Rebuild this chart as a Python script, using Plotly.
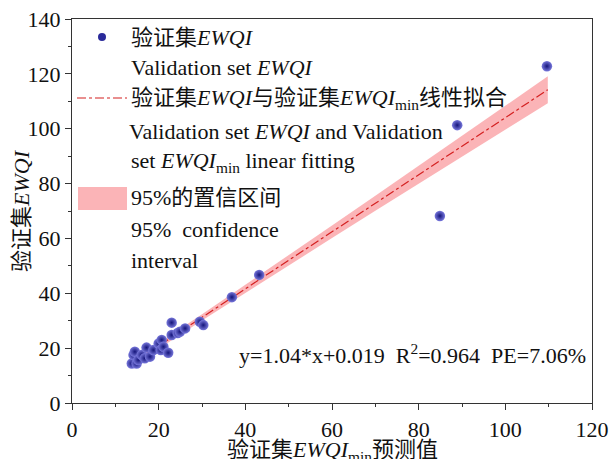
import plotly.graph_objects as go

# ---- data ----
x_pred = [13.8, 14.2, 14.5, 14.9, 15.3, 16.1, 16.8, 17.2, 18.0, 18.8, 20.0, 20.5, 20.7, 21.1,
          22.2, 23.0, 23.0, 24.4, 24.9, 26.1, 29.5, 30.3, 36.9, 43.2, 84.9, 88.9, 109.6]
y_obs = [14.4, 17.5, 18.7, 14.4, 15.7, 17.5, 16.3, 20.2, 16.9, 19.3, 21.7, 19.3, 23.0, 20.5,
         18.3, 24.8, 29.3, 25.5, 26.0, 27.2, 29.6, 28.4, 38.6, 46.7, 68.2, 101.3, 122.8]

slope = 1.04
intercept = 0.019
fit_x = [13.5, 109.8]

band_x = [13.5, 20, 30, 40, 50, 60, 70, 80, 90, 100, 109.8]
band_half = [1.2, 1.0, 1.1, 1.4, 1.8, 2.3, 2.7, 3.2, 3.8, 4.3, 4.9]

x_ticks = [0, 20, 40, 60, 80, 100, 120]
y_ticks = [0, 20, 40, 60, 80, 100, 120, 140]

FONT = "'Liberation Serif', 'Times New Roman', 'Noto Sans CJK SC', serif"

fit_y = [slope * v + intercept for v in fit_x]
band_c = [slope * v + intercept for v in band_x]
band_up = [c + h for c, h in zip(band_c, band_half)]
band_lo = [c - h for c, h in zip(band_c, band_half)]

fig = go.Figure()
fig.add_trace(go.Scatter(x=band_x + band_x[::-1], y=band_up + band_lo[::-1], fill="toself",
                         fillcolor="rgba(248,130,135,0.6)", line=dict(width=0),
                         hoverinfo="skip", showlegend=False))
fig.add_trace(go.Scatter(x=fit_x, y=fit_y, mode="lines",
                         line=dict(color="#d42020", width=1.2, dash="dashdot"), showlegend=False))
fig.add_trace(go.Scatter(x=x_pred, y=y_obs, mode="markers",
                         marker=dict(size=10.5, color="#7878dc",
                                     gradient=dict(type="radial", color="#14147a"),
                                     line=dict(width=0)),
                         showlegend=False))

L, R, T, B = 72, 592, 19, 403
W, H = R - L, B - T

def px(x):
    return (x - L) / W

def py(y):
    return (B - y) / H

FS = 22
anns = []
def txt(x, y, s, size=FS):
    anns.append(dict(x=px(x), y=py(y), xref="paper", yref="paper", text=s, showarrow=False,
                     xanchor="left", yanchor="middle", borderpad=0,
                     font=dict(family=FONT, size=size, color="#111")))

txt(130, 37, "验证集<i>EWQI</i>")
txt(130, 68, "Validation set <i>EWQI</i>")
txt(130, 99, "验证集<i>EWQI</i>与验证集<i>EWQI</i><sub>min</sub>线性拟合")
txt(128, 131, "Validation set <i>EWQI</i> and Validation")
txt(130, 162, "set <i>EWQI</i><sub>min</sub> linear fitting")
txt(130, 197, "95%的置信区间")
txt(130, 229, "95%  confidence")
txt(130, 260, "interval")
anns.append(dict(x=px(587), y=py(354), xref="paper", yref="paper", showarrow=False, borderpad=0,
                 text="y=1.04*x+0.019  R<sup>2</sup>=0.964  PE=7.06%", xanchor="right", yanchor="middle",
                 font=dict(family=FONT, size=FS, color="#111")))
# axis titles
anns.append(dict(x=0.5, y=py(451), xref="paper", yref="paper", showarrow=False, borderpad=0,
                 text="验证集<i>EWQI</i><sub>min</sub>预测值", xanchor="center", yanchor="middle",
                 font=dict(family=FONT, size=22, color="#111")))
anns.append(dict(x=px(21), y=py(211), xref="paper", yref="paper", showarrow=False, borderpad=0,
                 text="验证集<i>EWQI</i>", textangle=-90, xanchor="center", yanchor="middle",
                 font=dict(family=FONT, size=22, color="#111")))

shapes = [
    dict(type="circle", xref="paper", yref="paper", x0=px(98), x1=px(106), y0=py(41), y1=py(33),
         fillcolor="#2a2a9a", line=dict(width=0)),
    dict(type="line", xref="paper", yref="paper", x0=px(77), x1=px(127), y0=py(98), y1=py(98),
         line=dict(color="#d42020", width=1.2, dash="dashdot")),
    dict(type="rect", xref="paper", yref="paper", x0=px(78), x1=px(127), y0=py(210), y1=py(187),
         fillcolor="rgba(248,130,135,0.6)", line=dict(width=0)),
]

axis_common = dict(showline=True, linecolor="#333", linewidth=1.2, mirror=True, showgrid=False,
                   zeroline=False, ticks="outside", ticklen=6, tickcolor="#333", automargin=False,
                   tickfont=dict(family=FONT, size=22, color="#111"),
                   minor=dict(ticks="outside", ticklen=3, tickcolor="#333", dtick=10))

fig.update_xaxes(range=[0, 120], tickvals=x_ticks, **axis_common)
fig.update_yaxes(range=[0, 140], tickvals=y_ticks, **axis_common)

fig.update_layout(width=610, height=459, margin=dict(l=L, r=610 - R, t=T, b=459 - B),
                  plot_bgcolor="white", paper_bgcolor="white",
                  annotations=anns, shapes=shapes, showlegend=False)

fig.write_html("out.html", config={"displayModeBar": False},
               post_script="document.body.style.margin='0';document.body.style.overflow='hidden';")
